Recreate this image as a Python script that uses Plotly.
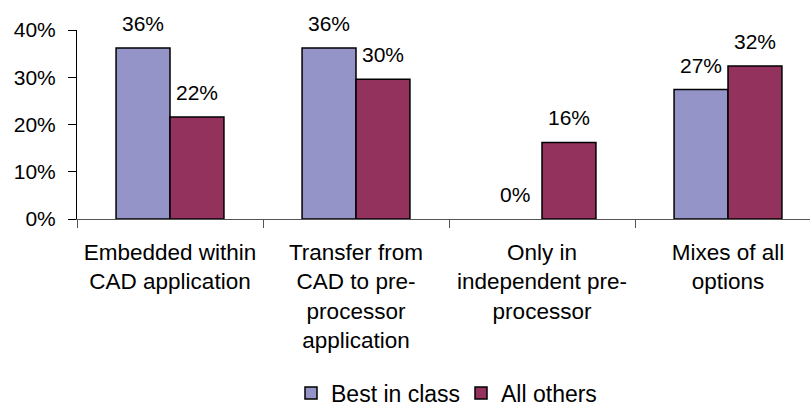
import plotly.graph_objects as go

categories = [
    "Embedded within<br>CAD application",
    "Transfer from<br>CAD to pre-<br>processor<br>application",
    "Only in<br>independent pre-<br>processor",
    "Mixes of all<br>options",
]
series_names = ["Best in class", "All others"]
best_in_class = [36.2, 36.2, 0.0, 27.4]
all_others = [21.6, 29.6, 16.2, 32.4]
colors = ["#9494C8", "#94325E"]
y_ticks = [0, 10, 20, 30, 40]
y_tick_labels = ["0%", "10%", "20%", "30%", "40%"]

FONT = "Liberation Sans, Arial, sans-serif"
W, H = 810, 411
L, T, B = 77, 30, 192
CAT_PX = 186.0
plot_w = W - L
x_max = -0.5 + plot_w / CAT_PX

fig = go.Figure()
for name, vals, col in zip(series_names, [best_in_class, all_others], colors):
    fig.add_trace(go.Bar(
        name=name, x=categories, y=vals,
        marker=dict(color=col, line=dict(color="#000000",
                                         width=[0 if v == 0 else 1.5 for v in vals])),
    ))

annotations = []
bar_px = CAT_PX * (1 - 0.42) / 2
for vals, shift in [(best_in_class, -bar_px / 2), (all_others, bar_px / 2)]:
    for c, v in zip(categories, vals):
        annotations.append(dict(
            x=c, y=v, xref="x", yref="y", text=f"{v:.0f}%", showarrow=False,
            xshift=shift, yshift=11, yanchor="bottom", xanchor="center",
            font=dict(family=FONT, size=21, color="#000000"),
        ))

fig.update_layout(
    width=W, height=H,
    margin=dict(l=L, r=0, t=T, b=B, pad=0, autoexpand=False),
    paper_bgcolor="white", plot_bgcolor="white",
    barmode="group", bargap=0.42, bargroupgap=0,
    font=dict(family=FONT, size=21, color="#000000"),
    showlegend=True,
    legend=dict(
        orientation="h", x=(291 - L) / plot_w, xanchor="left",
        y=(H - B - 393) / (H - B - T), yanchor="middle",
        font=dict(family=FONT, size=23, color="#000000"),
        entrywidth=125, entrywidthmode="pixels", tracegroupgap=0,
    ),
    annotations=annotations,
    xaxis=dict(
        range=[-0.5, x_max], showgrid=False, zeroline=False, automargin=False,
        showline=True, linecolor="#555555", linewidth=1,
        ticks="outside", tickson="boundaries", ticklen=8, tickcolor="#555555",
        tickfont=dict(family=FONT, size=22.5, color="#000000"),
        ticklabelstandoff=13,
    ),
    yaxis=dict(
        range=[0, 40], showgrid=False, zeroline=False, automargin=False,
        showline=True, linecolor="#000000", linewidth=1,
        ticks="outside", ticklen=8, tickcolor="#000000",
        tickvals=y_ticks, ticktext=y_tick_labels,
        tickfont=dict(family=FONT, size=21, color="#000000"),
        ticklabelstandoff=8,
    ),
)

fig.write_html("out.html")
